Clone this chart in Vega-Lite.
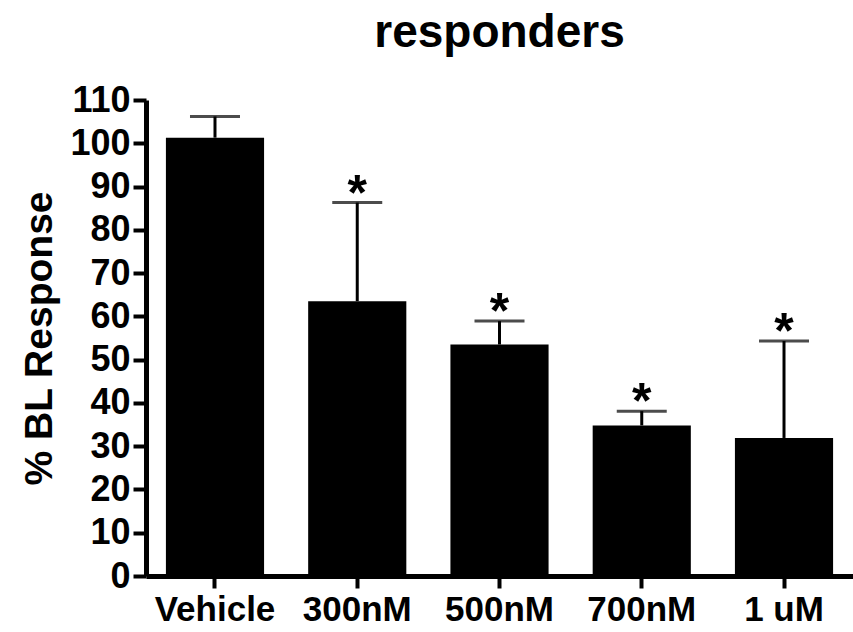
{
  "$schema": "https://vega.github.io/schema/vega-lite/v6.json",
  "width": 707,
  "height": 476,
  "autosize": {"type": "none"},
  "padding": {"left": 146, "top": 100, "right": 0, "bottom": 56},
  "background": "white",
  "title": {"text": "responders", "font": "Liberation Sans", "fontSize": 46, "fontWeight": "bold", "color": "black", "anchor": "middle", "offset": 25},
  "data": {"values": [
    {"group": "Vehicle", "mean": 101.3, "upper": 106.2, "star": ""},
    {"group": "300nM", "mean": 63.5, "upper": 86.3, "star": "*"},
    {"group": "500nM", "mean": 53.5, "upper": 58.9, "star": "*"},
    {"group": "700nM", "mean": 34.8, "upper": 38.1, "star": "*"},
    {"group": "1 uM", "mean": 31.9, "upper": 54.3, "star": "*"}
  ]},
  "config": {
    "view": {"stroke": null}
  },
  "encoding": {
    "x": {"field": "group", "type": "nominal", "sort": null,
      "scale": {"paddingInner": 0.31, "paddingOuter": 0.14},
      "axis": {"title": null, "labelAngle": 0, "labelFontSize": 35, "labelFont": "Liberation Sans", "labelFontWeight": "bold", "labelColor": "black",
        "domainColor": "black", "domainWidth": 5, "tickColor": "black", "tickWidth": 4, "tickSize": 12, "labelPadding": 4, "grid": false}}
  },
  "layer": [
    {"mark": {"type": "bar", "color": "black"},
     "encoding": {"y": {"field": "mean", "type": "quantitative",
        "scale": {"domain": [0, 110], "nice": false},
        "axis": {"title": "% BL Response", "titleFont": "Liberation Sans", "titleFontWeight": "bold", "titleColor": "black", "titleFontSize": 39, "titlePadding": 10,
          "labelFont": "Liberation Sans", "labelFontWeight": "bold", "labelColor": "black", "labelFontSize": 36,
          "values": [0,10,20,30,40,50,60,70,80,90,100,110], "grid": false,
          "domainColor": "black", "domainWidth": 5, "tickColor": "black", "tickWidth": 4, "tickSize": 13, "labelPadding": 3}}}},
    {"mark": {"type": "rule", "color": "black", "strokeWidth": 3},
     "encoding": {"y": {"field": "mean", "type": "quantitative"}, "y2": {"field": "upper"}}},
    {"mark": {"type": "tick", "color": "black", "thickness": 3, "size": 50, "orient": "horizontal"},
     "encoding": {"y": {"field": "upper", "type": "quantitative"}}},
    {"mark": {"type": "text", "color": "black", "font": "Liberation Sans", "fontWeight": "bold", "fontSize": 50, "baseline": "middle", "dy": -8},
     "encoding": {"y": {"field": "upper", "type": "quantitative"}, "text": {"field": "star"}}}
  ]
}
